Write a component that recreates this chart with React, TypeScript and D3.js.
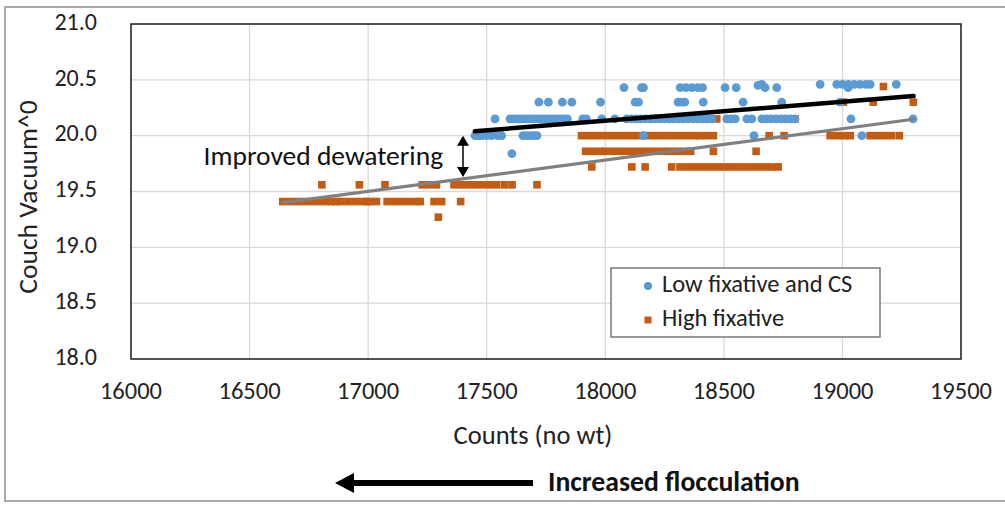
import React from 'react';
import * as d3 from 'd3';

// x tick values and y tick values
const xTicks = [16000, 16500, 17000, 17500, 18000, 18500, 19000, 19500];
const yTicks = [18.0, 18.5, 19.0, 19.5, 20.0, 20.5, 21.0];

// "Low fixative and CS" (blue dots), [counts, vacuum]
const lowFixative = [
  [18906, 20.46], [18976, 20.46], [19000, 20.46], [19025, 20.46], [19050, 20.46], [19075, 20.46], [19100, 20.46], [19117, 20.46], [19227, 20.46],
  [18079, 20.43], [18153, 20.43], [18161, 20.43], [18316, 20.43], [18340, 20.43], [18365, 20.43], [18390, 20.43], [18410, 20.43], [18505, 20.43],
  [18552, 20.43], [18644, 20.45], [18660, 20.46], [18674, 20.43], [18723, 20.43], [19024, 20.43],
  [17720, 20.3], [17760, 20.3], [17819, 20.3], [17859, 20.3], [17980, 20.3], [18126, 20.3], [18140, 20.3], [18307, 20.3], [18322, 20.3],
  [18335, 20.3], [18413, 20.3], [18581, 20.3], [18744, 20.3], [18990, 20.3],
  [17535, 20.15], [17598, 20.15], [17615, 20.15], [17630, 20.15], [17645, 20.15], [17660, 20.15], [17675, 20.15], [17690, 20.15], [17705, 20.15],
  [17720, 20.15], [17735, 20.15], [17750, 20.15], [17765, 20.15], [17780, 20.15], [17795, 20.15], [17810, 20.15], [17825, 20.15], [17840, 20.15],
  [17905, 20.15], [17920, 20.15], [17985, 20.15], [18040, 20.15], [18090, 20.15], [18110, 20.15], [18130, 20.15], [18150, 20.15], [18170, 20.15],
  [18190, 20.15], [18210, 20.15], [18230, 20.15], [18250, 20.15], [18270, 20.15], [18290, 20.15], [18310, 20.15], [18330, 20.15], [18350, 20.15],
  [18370, 20.15], [18390, 20.15], [18410, 20.15], [18430, 20.15], [18450, 20.15], [18512, 20.15], [18530, 20.15], [18548, 20.15], [18597, 20.15],
  [18618, 20.15], [18660, 20.15], [18680, 20.15], [18700, 20.15], [18720, 20.15], [18740, 20.15], [18760, 20.15], [18780, 20.15], [18800, 20.15],
  [19036, 20.15], [19298, 20.15],
  [17451, 20.0], [17465, 20.0], [17480, 20.0], [17500, 20.0], [17520, 20.0], [17545, 20.0], [17563, 20.0], [17653, 20.0], [17668, 20.0],
  [17685, 20.0], [17700, 20.0], [17712, 20.0], [18161, 20.0], [18627, 20.0], [19082, 20.0],
  [17606, 19.84],
];

// "High fixative" (orange squares), [counts, vacuum]
const highFixative = [
  [17296, 19.27],
  [16640, 19.41], [16670, 19.41], [16700, 19.41], [16730, 19.41], [16760, 19.41], [16790, 19.41], [16820, 19.41], [16845, 19.41], [16865, 19.41],
  [16885, 19.41], [16915, 19.41], [16945, 19.41], [16975, 19.41], [16995, 19.41], [17010, 19.41], [17035, 19.41], [17080, 19.41], [17110, 19.41],
  [17140, 19.41], [17170, 19.41], [17200, 19.41], [17220, 19.41], [17278, 19.41], [17310, 19.41], [17390, 19.41],
  [16805, 19.56], [16963, 19.56], [17071, 19.56], [17228, 19.56], [17258, 19.56], [17288, 19.56], [17362, 19.56], [17392, 19.56], [17422, 19.56],
  [17452, 19.56], [17482, 19.56], [17512, 19.56], [17542, 19.56], [17575, 19.56], [17607, 19.56], [17712, 19.56],
  [17943, 19.72], [18112, 19.72], [18168, 19.72], [18280, 19.72], [18315, 19.72], [18345, 19.72], [18375, 19.72], [18405, 19.72], [18435, 19.72],
  [18465, 19.72], [18495, 19.72], [18525, 19.72], [18555, 19.72], [18585, 19.72], [18615, 19.72], [18645, 19.72], [18675, 19.72], [18705, 19.72],
  [18729, 19.72],
  [17917, 19.86], [17947, 19.86], [17977, 19.86], [18000, 19.86], [18030, 19.86], [18060, 19.86], [18090, 19.86], [18120, 19.86], [18150, 19.86],
  [18180, 19.86], [18210, 19.86], [18240, 19.86], [18270, 19.86], [18300, 19.86], [18330, 19.86], [18360, 19.86], [18456, 19.86], [18636, 19.86],
  [17900, 20.0], [17930, 20.0], [17960, 20.0], [17990, 20.0], [18020, 20.0], [18050, 20.0], [18080, 20.0], [18110, 20.0], [18140, 20.0],
  [18170, 20.0], [18200, 20.0], [18230, 20.0], [18260, 20.0], [18290, 20.0], [18320, 20.0], [18350, 20.0], [18378, 20.0], [18398, 20.0],
  [18426, 20.0], [18456, 20.0], [18691, 20.0], [18754, 20.0], [18948, 20.0], [18978, 20.0], [19008, 20.0], [19033, 20.0], [19117, 20.0],
  [19147, 20.0], [19177, 20.0], [19207, 20.0], [19240, 20.0],
  [18421, 20.15], [18470, 20.15], [18800, 20.15],
  [19004, 20.3], [19130, 20.3], [19299, 20.3],
  [19173, 20.44],
];

// linear trendlines (end points)
const lowTrend = [[17450, 20.04], [19300, 20.355]];
const highTrend = [[16640, 19.4], [19300, 20.147]];

const W = 1005;
const H = 509;
const FONT = 'Calibri, Carlito, Lato, sans-serif';

export default function App() {
  const x = d3.scaleLinear().domain([16000, 19500]).range([131, 961]);
  const y = d3.scaleLinear().domain([18, 21]).range([359, 24]);

  const line = d3.line<number[]>()
    .x(d => x(d[0]))
    .y(d => y(d[1]));

  const arrowX = x(17400);
  const arrowTop = y(20.0);
  const arrowBot = y(19.63);

  return (
    <svg width={W} height={H} style={{ position: 'absolute', left: 0, top: 0 }} fontFamily={FONT}>
      <rect x={0} y={0} width={W} height={H} fill="#fff" />
      {/* chart area border */}
      <rect x={5} y={7} width={1010} height={494} fill="none" stroke="#ababab" strokeWidth={2} />

      {/* gridlines */}
      {xTicks.slice(1, -1).map(t => (
        <line key={'gx' + t} x1={x(t)} x2={x(t)} y1={y(21)} y2={y(18)} stroke="#d9d9d9" strokeWidth={1.3} />
      ))}
      {yTicks.slice(1, -1).map(t => (
        <line key={'gy' + t} x1={x(16000)} x2={x(19500)} y1={y(t)} y2={y(t)} stroke="#d9d9d9" strokeWidth={1.3} />
      ))}

      {/* plot area border */}
      <rect x={x(16000)} y={y(21)} width={x(19500) - x(16000)} height={y(18) - y(21)} fill="none" stroke="#1a1a1a" strokeWidth={1.5} />

      {/* tick labels */}
      {xTicks.map(t => (
        <text key={'tx' + t} x={x(t)} y={393} textAnchor="middle" dominantBaseline="middle" fontSize={24.5} fill="#222">{t}</text>
      ))}
      {yTicks.map(t => (
        <text key={'ty' + t} x={97} y={y(t)} textAnchor="end" dominantBaseline="middle" fontSize={24} fill="#222">{t.toFixed(1)}</text>
      ))}

      {/* axis titles */}
      <text x={533} y={438} textAnchor="middle" dominantBaseline="middle" fontSize={26.5} fill="#222">Counts (no wt)</text>
      <text transform={`translate(30,197) rotate(-90)`} textAnchor="middle" dominantBaseline="middle" fontSize={27.5} fill="#222">Couch Vacuum^0</text>

      {/* series */}
      {highFixative.map((d, i) => (
        <rect key={'h' + i} x={x(d[0]) - 3.8} y={y(d[1]) - 3.8} width={7.6} height={7.6} fill="#c55a11" />
      ))}
      {lowFixative.map((d, i) => (
        <circle key={'l' + i} cx={x(d[0])} cy={y(d[1])} r={4.4} fill="#5b9bd5" />
      ))}

      {/* trendlines */}
      <path d={line(highTrend) || ''} fill="none" stroke="#808080" strokeWidth={3.2} strokeLinecap="round" />
      <path d={line(lowTrend) || ''} fill="none" stroke="#000" strokeWidth={4.5} strokeLinecap="round" />

      {/* annotation */}
      <text x={x(17316)} y={y(19.8)} textAnchor="end" dominantBaseline="middle" fontSize={27.5} fill="#111">Improved dewatering</text>
      <line x1={arrowX} x2={arrowX} y1={arrowTop + 8} y2={arrowBot - 8} stroke="#000" strokeWidth={1.5} />
      <path d={`M${arrowX},${arrowTop} L${arrowX - 6},${arrowTop + 10} L${arrowX + 6},${arrowTop + 10} Z`} fill="#000" />
      <path d={`M${arrowX},${arrowBot} L${arrowX - 6},${arrowBot - 10} L${arrowX + 6},${arrowBot - 10} Z`} fill="#000" />

      {/* legend */}
      <rect x={611} y={268} width={269} height={69} fill="#fff" stroke="#777" strokeWidth={1.5} />
      <circle cx={648} cy={286} r={4} fill="#5b9bd5" />
      <text x={662} y={286} dominantBaseline="middle" fontSize={24.5} fill="#222">Low fixative and CS</text>
      <rect x={644.5} y={316.5} width={7} height={7} fill="#c55a11" />
      <text x={662} y={320} dominantBaseline="middle" fontSize={24.5} fill="#222">High fixative</text>

      {/* flocculation arrow */}
      <line x1={350} x2={533} y1={483} y2={483} stroke="#000" strokeWidth={6} />
      <path d="M335,483 L354,473 L354,493 Z" fill="#000" />
      <text x={548} y={484} dominantBaseline="middle" fontSize={27.7} fontWeight="bold" fill="#111">Increased flocculation</text>
    </svg>
  );
}
